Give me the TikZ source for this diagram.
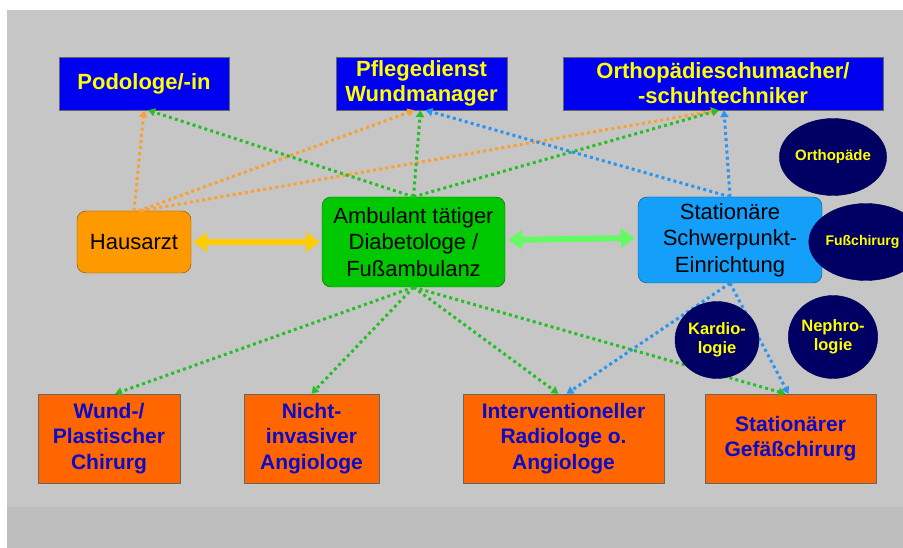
\documentclass[tikz,border=0pt]{standalone}
\usepackage{fontspec}
\setmainfont{Liberation Sans}
\usetikzlibrary{arrows.meta,shapes.geometric}

\definecolor{bggray}{RGB}{198,198,198}
\definecolor{bglow}{RGB}{190,190,190}
\definecolor{boxblue}{RGB}{0,0,240}
\definecolor{txtyellow}{RGB}{255,255,0}
\definecolor{boxorange}{RGB}{255,102,0}
\definecolor{txtblue}{RGB}{10,10,200}
\definecolor{hausorange}{RGB}{255,153,0}
\definecolor{diagreen}{RGB}{0,200,0}
\definecolor{statblue}{RGB}{20,160,250}
\definecolor{navy}{RGB}{0,0,100}
\definecolor{dotorange}{RGB}{250,160,50}
\definecolor{dotgreen}{RGB}{40,190,40}
\definecolor{dotblue}{RGB}{40,150,240}
\definecolor{arryellow}{RGB}{255,204,0}
\definecolor{arrgreen}{RGB}{100,250,100}

\begin{document}
\begin{tikzpicture}[x=1pt,y=-1pt,
	topbox/.style={rectangle,draw=black!60,fill=boxblue,text=txtyellow,align=center,inner sep=0pt,font=\bfseries\fontsize{22}{25}\selectfont,minimum height=53pt},
	midbox/.style={rectangle,rounded corners=9pt,draw=#1!50!black,fill=#1,text=black,align=center,inner sep=0pt,font=\fontsize{22}{26.5}\selectfont},
	lowbox/.style={rectangle,draw=black!60,fill=boxorange,text=txtblue,align=center,inner sep=0pt,font=\bfseries\fontsize{21}{25.5}\selectfont,minimum height=89pt},
	spot/.style={ellipse,draw=navy!80!black,fill=navy,text=txtyellow,inner sep=0pt,font=\bfseries\fontsize{15}{19}\selectfont,align=center},
	link/.style={draw=#1,line width=3pt,dash pattern=on 3pt off 3.2pt,-{Triangle[length=7pt,width=8pt,fill=#1]}},
	bigarrow/.style={draw=#1,line width=6pt,{Triangle[length=14pt,width=19pt,fill=#1]}-{Triangle[length=14pt,width=19pt,fill=#1]}}]

	% background
	\fill[white] (0,0) rectangle (903,548);
	\fill[bggray] (7,10) rectangle (903,548);
	\fill[bglow] (7,507) rectangle (903,548);
	\clip (0,0) rectangle (903,548);

	% top row
	\node [topbox,minimum width=170pt] (podo) at (144,83.5) {Podologe/-in};
	\node [topbox,minimum width=171pt] (pflege) at (421.5,83.5) {Pflegedienst\\Wundmanager};
	\node [topbox,minimum width=320pt] (ortho) at (723,83.5) {Orthopädieschumacher/\\-schuhtechniker};

	% middle row
	\node [midbox=hausorange,minimum width=114pt,minimum height=62pt] (haus) at (134,242) {Hausarzt};
	\node [midbox=diagreen,minimum width=183pt,minimum height=90pt] (dia) at (413.5,242) {Ambulant tätiger\\Diabetologe /\\Fußambulanz};
	\node [midbox=statblue,minimum width=184pt,minimum height=86pt] (stat) at (730,240) {Stationäre\\Schwerpunkt-\\Einrichtung};

	% bottom row
	\node [lowbox,minimum width=142pt] (wund) at (109,438.5) {Wund-/\\Plastischer\\Chirurg};
	\node [lowbox,minimum width=135pt] (nicht) at (311.5,438.5) {Nicht-\\invasiver\\Angiologe};
	\node [lowbox,minimum width=201pt] (interv) at (563.5,438.5) {Interventioneller\\Radiologe o.\\Angiologe};
	\node [lowbox,minimum width=171pt] (gef) at (790.5,438.5) {Stationärer\\Gefäßchirurg};

	% thick arrows
	\draw [bigarrow=arryellow] ([xshift=2pt]haus.east) -- ([xshift=-2pt]dia.west);
	\draw [bigarrow=arrgreen] ([xshift=3pt,yshift=2pt]dia.east) -- ([xshift=-3pt,yshift=2pt]stat.west);

	% dotted links upwards
	\draw [link=dotorange] (haus.north) -- (podo.south);
	\draw [link=dotorange] ([xshift=5pt]haus.north) -- ([xshift=-7pt]pflege.south);
	\draw [link=dotorange] ([xshift=7pt]haus.north) -- ([xshift=-5pt]ortho.south);
	\draw [link=dotgreen] (dia.north) -- ([xshift=4pt]podo.south);
	\draw [link=dotgreen] (dia.north) -- ([xshift=-1pt]pflege.south);
	\draw [link=dotgreen] (dia.north) -- ([xshift=-4pt]ortho.south);
	\draw [link=dotblue] (stat.north) -- ([xshift=4pt]pflege.south);
	\draw [link=dotblue] (stat.north) -- ([xshift=1pt]ortho.south);

	% dotted links downwards
	\draw [link=dotgreen] (dia.south) -- ([xshift=6pt]wund.north);
	\draw [link=dotgreen] (dia.south) -- (nicht.north);
	\draw [link=dotgreen] (dia.south) -- ([xshift=-5pt]interv.north);
	\draw [link=dotgreen] (dia.south) -- ([xshift=-5pt]gef.north);
	\draw [link=dotblue] (stat.south) -- ([xshift=3pt]interv.north);
	\draw [link=dotblue] (stat.south) -- ([xshift=-2pt]gef.north);

	% specialists
	\node [spot,minimum width=85pt,minimum height=77pt] (orthop) at (833,157) {Orthopäde};
	\node [spot,minimum width=85pt,minimum height=77pt,font=\bfseries\fontsize{14}{19}\selectfont] (fuss) at (866,242) {Fußchirurg\hspace*{7pt}};
	\node [spot,minimum width=84pt,minimum height=77pt,font=\bfseries\fontsize{16.5}{19}\selectfont] (kardio) at (717,340) {Kardio-\\logie};
	\node [spot,minimum width=85pt,minimum height=83pt,font=\bfseries\fontsize{16.5}{19}\selectfont] (nephro) at (833,337) {Nephro-\\logie};
\end{tikzpicture}
\end{document}
